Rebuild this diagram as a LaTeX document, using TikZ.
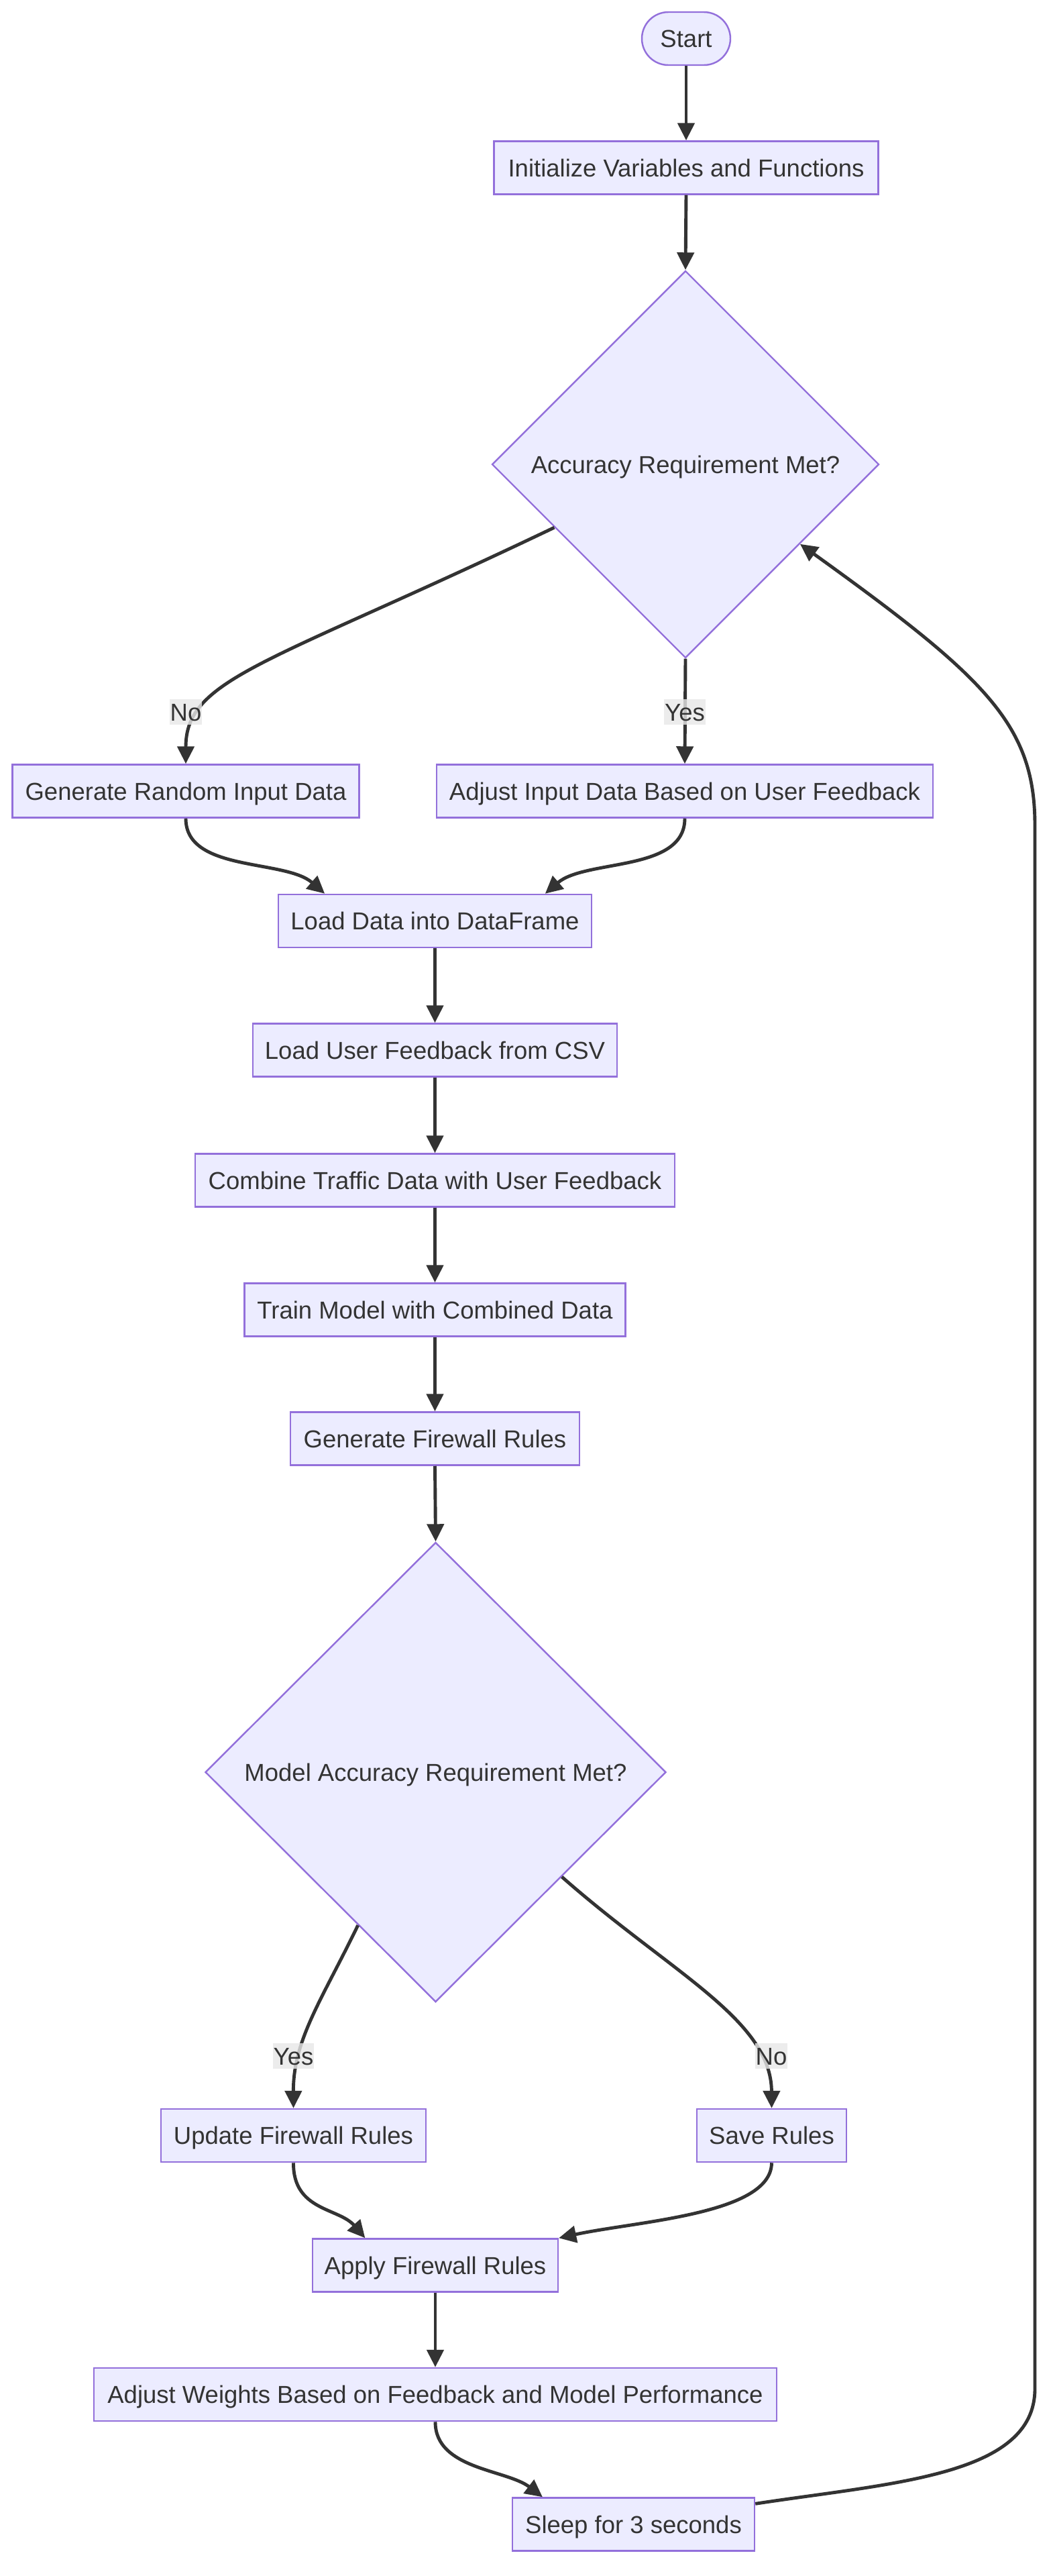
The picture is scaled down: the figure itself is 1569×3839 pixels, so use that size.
\documentclass[tikz,border=0pt]{standalone}
\usepackage{fontspec}
\setmainfont{Liberation Sans}
\usetikzlibrary{shapes.geometric,arrows.meta,calc}
\definecolor{nodefill}{HTML}{ECECFF}
\definecolor{nodeborder}{HTML}{9370DB}
\definecolor{ink}{HTML}{333333}
\definecolor{lblbg}{HTML}{E8E8E8}
\begin{document}
\begin{tikzpicture}[x=1pt,y=-1pt,
  every node/.style={font=\fontsize{36.5}{44}\selectfont, text=ink},
  box/.style={draw=nodeborder, fill=nodefill, line width=2.45pt, minimum height=79pt, inner sep=0pt, text height=26pt, text depth=0pt},
  dec/.style={diamond, aspect=1, draw=nodeborder, fill=nodefill, line width=2.45pt, inner sep=0pt, text height=26pt, text depth=0pt},
  flow/.style={draw=ink, line width=4.9pt, -{Triangle[length=26pt,width=25pt]}},
  lbl/.style={fill=lblbg, fill opacity=0.8, text opacity=1, inner xsep=1pt, inner ysep=0pt, minimum height=38pt, text height=26pt, text depth=0pt}
]
\useasboundingbox (0,0) rectangle (1569,3839);
\fill[white] (0,0) rectangle (1569,3839);

% nodes
\node[box, rounded corners=39.5pt, minimum width=132pt] (start) at (1023,57.5) {Start};
\node[box, minimum width=573pt] (init) at (1023,250) {Initialize Variables and Functions};
\node[dec, minimum width=577pt, minimum height=577pt] (d1) at (1022,692) {Accuracy Requirement Met?};
\node[box, minimum width=517pt] (gr) at (277,1179) {Generate Random Input Data};
\node[box, minimum width=740pt] (adj) at (1021,1179) {Adjust Input Data Based on User Feedback};
\node[box, minimum width=467pt] (ld) at (648.5,1372.5) {Load Data into DataFrame};
\node[box, minimum width=543pt] (csv) at (648.5,1565) {Load User Feedback from CSV};
\node[box, minimum width=715pt] (comb) at (648.5,1759) {Combine Traffic Data with User Feedback};
\node[box, minimum width=568pt] (train) at (648.5,1952) {Train Model with Combined Data};
\node[box, minimum width=431pt] (gfw) at (648.5,2144) {Generate Firewall Rules};
\node[dec, minimum width=687pt, minimum height=685pt] (d2) at (649.5,2641) {Model Accuracy Requirement Met?};
\node[box, minimum width=395pt] (upd) at (437.5,3182.5) {Update Firewall Rules};
\node[box, minimum width=223pt] (save) at (1150.5,3182.5) {Save Rules};
\node[box, minimum width=366pt] (ap) at (649,3376) {Apply Firewall Rules};
\node[box, minimum width=1018pt] (aw) at (649,3568.5) {Adjust Weights Based on Feedback and Model Performance};
\node[box, minimum width=361pt] (sl) at (944.5,3762) {Sleep for 3 seconds};

% connectors
\draw[flow] (start.south) -- (init.north);
\draw[flow] (init.south) -- (d1.north);
\draw[flow] ($(d1.west)!0.325!(d1.south)$) .. controls (400,990) and (277,1010) .. (gr.north);
\draw[flow] (d1.south) -- (adj.north);
\draw[flow] (gr.south) .. controls (277,1300) and (425,1280) .. ($(ld.north west)!0.15!(ld.north east)$);
\draw[flow] (adj.south) .. controls (1021,1300) and (873,1280) .. ($(ld.north west)!0.85!(ld.north east)$);
\draw[flow] (ld.south) -- (csv.north);
\draw[flow] (csv.south) -- (comb.north);
\draw[flow] (comb.south) -- (train.north);
\draw[flow] (train.south) -- (gfw.north);
\draw[flow] (gfw.south) -- (d2.north);
\draw[flow] ($(d2.west)!0.664!(d2.south)$) .. controls (480,2980) and (437,3040) .. (upd.north);
\draw[flow] ($(d2.south)!0.546!(d2.east)$) .. controls (1000,2940) and (1150,3010) .. (save.north);
\draw[flow] (upd.south) .. controls (437,3295) and (505,3290) .. ($(ap.north west)!0.216!(ap.north east)$);
\draw[flow] (save.south) .. controls (1150,3300) and (950,3310) .. (ap.north east);
\draw[flow] (ap.south) -- (aw.north);
\draw[flow] (aw.south) .. controls (649,3680) and (755,3680) .. ($(sl.north west)!0.127!(sl.north east)$);
\draw[flow] ($(sl.north east)+(0,10)$) .. controls (1330,3700) and (1543,3690) .. (1543,3560)
   -- (1543,1230) .. controls (1543,1080) and (1470,1010) .. ($(d1.south)!0.59!(d1.east)$);

% edge labels
\node[lbl] (lno1) at (277,1061) {No};
\node[lbl] (lyes1) at (1021,1061) {Yes};
\node[lbl] (lyes2) at (437.5,3064) {Yes};
\node[lbl] (lno2) at (1150,3064) {No};
\end{tikzpicture}
\end{document}
